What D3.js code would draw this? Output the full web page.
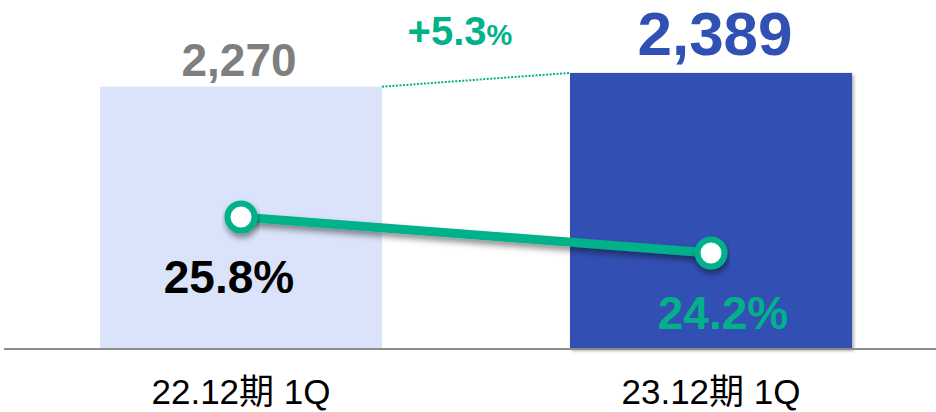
<!DOCTYPE html>
<html>
<head>
<meta charset="utf-8">
<script src="https://cdn.jsdelivr.net/npm/d3@7"></script>
<style>
  body { margin: 0; background: #fff; }
  svg { display: block; font-family: "Liberation Sans", Arial, "Noto Sans CJK JP", sans-serif; }
</style>
</head>
<body>
<div id="chart"></div>
<script>
// data
const categories = ['22.12期 1Q', '23.12期 1Q']
const sales = [2270, 2389]
const salesLabels = ['2,270', '2,389']
const rates = [25.8, 24.2]
const rateLabels = ['25.8%', '24.2%']
const growthLabel = '+5.3'

const width = 936, height = 412
const baseY = 349

const svg = d3.select('#chart').append('svg')
    .attr('width', width)
    .attr('height', height)

const defs = svg.append('defs')
const shadow = defs.append('filter').attr('id', 'shadow')
    .attr('x', '-20%').attr('y', '-50%').attr('width', '140%').attr('height', '200%')
shadow.append('feDropShadow')
    .attr('dx', 1).attr('dy', 4).attr('stdDeviation', 3)
    .attr('flood-color', '#000').attr('flood-opacity', 0.45)
const barShadow = defs.append('filter').attr('id', 'barShadow')
    .attr('x', '-5%').attr('y', '-5%').attr('width', '110%').attr('height', '110%')
barShadow.append('feDropShadow')
    .attr('dx', 2).attr('dy', 2).attr('stdDeviation', 1.5)
    .attr('flood-color', '#000').attr('flood-opacity', 0.3)

//scales
const xScale = d3.scaleBand()
    .domain(categories)
    .range([100, 852])
    .paddingInner(0.4)
    .paddingOuter(0)

const yScale = d3.scaleLinear()
    .domain([0, 3020])
    .range([baseY, 0])

const rateScale = d3.scaleLinear()
    .domain([15, 30])
    .range([460, 122.5])

const cx = d => xScale(d) + xScale.bandwidth() / 2
const barColors = ['#dae3f9', '#3150b3']
const green = '#00b18a'

//bars
svg.append('g')
    .selectAll('rect')
    .data(categories)
    .join('rect')
    .attr('x', d => xScale(d))
    .attr('y', (d, i) => yScale(sales[i]))
    .attr('width', xScale.bandwidth())
    .attr('height', (d, i) => baseY - yScale(sales[i]))
    .attr('fill', (d, i) => barColors[i])
    .attr('filter', (d, i) => i === 1 ? 'url(#barShadow)' : null)

//axis line
svg.append('line')
    .attr('x1', 4).attr('x2', width)
    .attr('y1', baseY).attr('y2', baseY)
    .attr('stroke', '#8c8c8c')
    .attr('stroke-width', 2)

// dotted connector
svg.append('line')
    .attr('x1', xScale(categories[0]) + xScale.bandwidth())
    .attr('y1', yScale(sales[0]))
    .attr('x2', xScale(categories[1]))
    .attr('y2', yScale(sales[1]))
    .attr('stroke', green)
    .attr('stroke-width', 2)
    .attr('stroke-dasharray', '2,1.5')

// category labels
svg.append('g')
    .selectAll('text')
    .data(categories)
    .join('text')
    .attr('x', d => cx(d))
    .attr('y', 404)
    .attr('text-anchor', 'middle')
    .attr('font-size', 35)
    .attr('fill', '#000')
    .text(d => d)

// sales labels
svg.append('text')
    .attr('x', cx(categories[0]) - 2)
    .attr('y', yScale(sales[0]) - 11)
    .attr('text-anchor', 'middle')
    .attr('font-size', 46)
    .attr('font-weight', 'bold')
    .attr('fill', '#7f7f7f')
    .text(salesLabels[0])

svg.append('text')
    .attr('x', cx(categories[1]) + 4)
    .attr('y', yScale(sales[1]) - 18)
    .attr('text-anchor', 'middle')
    .attr('font-size', 62)
    .attr('font-weight', 'bold')
    .attr('fill', '#3150b3')
    .text(salesLabels[1])

// growth label
const g = svg.append('text')
    .attr('x', 460)
    .attr('y', 45)
    .attr('text-anchor', 'middle')
    .attr('font-weight', 'bold')
    .attr('fill', green)
g.append('tspan').attr('font-size', 40).text(growthLabel)
g.append('tspan').attr('font-size', 29).text('%')

//LINE
const lineGenerator = d3.line()
    .x((d, i) => cx(categories[i]))
    .y(d => rateScale(d))

svg.append('path')
    .attr('d', lineGenerator(rates))
    .attr('fill', 'none')
    .attr('stroke', green)
    .attr('stroke-width', 9)
    .attr('filter', 'url(#shadow)')

svg.append('g')
    .selectAll('circle')
    .data(rates)
    .join('circle')
    .attr('cx', (d, i) => cx(categories[i]))
    .attr('cy', d => rateScale(d))
    .attr('r', 13.5)
    .attr('fill', '#fff')
    .attr('stroke', green)
    .attr('stroke-width', 6)
    .attr('filter', 'url(#shadow)')

// rate labels
svg.append('g')
    .selectAll('text')
    .data(rates)
    .join('text')
    .attr('x', (d, i) => cx(categories[i]) + (i === 0 ? -12 : 12))
    .attr('y', d => rateScale(d) + 76)
    .attr('text-anchor', 'middle')
    .attr('font-size', 46)
    .attr('font-weight', 'bold')
    .attr('fill', (d, i) => i === 0 ? '#000' : green)
    .text((d, i) => rateLabels[i])
</script>
</body>
</html>
